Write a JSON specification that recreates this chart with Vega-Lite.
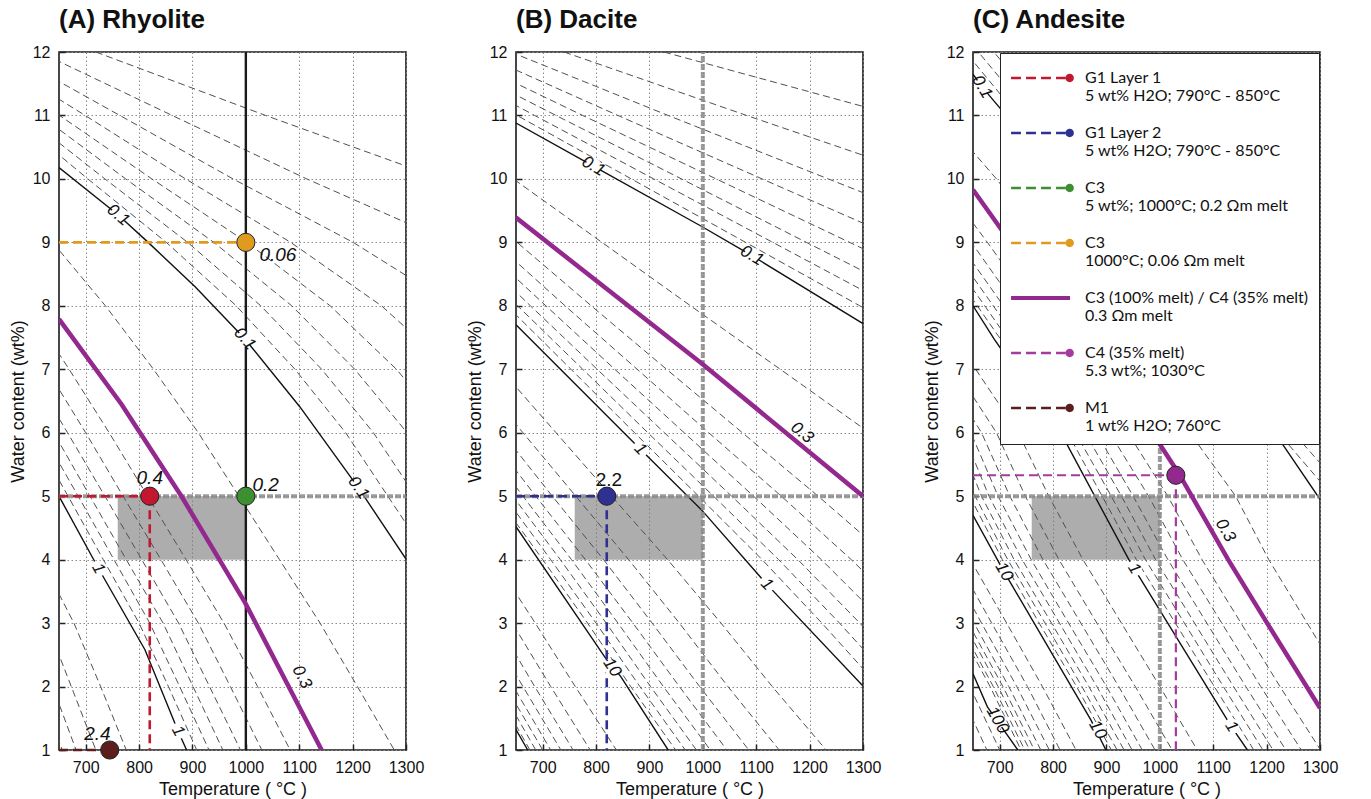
{
"$schema": "https://vega.github.io/schema/vega-lite/v6.json",
"background": "white",
"padding": {"left": 8, "top": 6, "right": 5, "bottom": 0},
"bounds": "flush",
"spacing": 110,
"resolve": {"scale": {"color": "independent", "shape": "independent"}, "legend": {"color": "independent", "shape": "independent"}},
"config": {
  "view": {"stroke": "#1a1a1a", "strokeWidth": 1.6},
  "axis": {"labelFont": "Liberation Sans", "labelFontSize": 16, "titleFont": "Liberation Sans", "titleFontSize": 18, "titleFontWeight": "normal", "labelColor": "#111", "titleColor": "#111", "grid": true, "gridDash": [1.5, 2.5], "gridColor": "#8a8a8a", "gridWidth": 1, "ticks": true, "tickSize": -6, "tickColor": "#222", "tickWidth": 1.5, "domain": false, "labelPadding": 15, "titlePadding": 5, "labelOverlap": false, "labelFlush": false},
  "title": {"font": "Liberation Sans", "fontSize": 26, "fontWeight": "bold", "color": "#111", "anchor": "start", "frame": "group", "offset": 11}
},
"datasets": {
  "dashA": [
    {"level":"0.02","T":502,"W":13},{"level":"0.02","T":719,"W":12},{"level":"0.02","T":1037,"W":11},{"level":"0.02","T":1367,"W":10},
    {"level":"0.03","T":434,"W":13},{"level":"0.03","T":613,"W":12},{"level":"0.03","T":862,"W":11},{"level":"0.03","T":1114,"W":10},{"level":"0.03","T":1384,"W":9},
    {"level":"0.04","T":551,"W":12},{"level":"0.04","T":764,"W":11},{"level":"0.04","T":976,"W":10},{"level":"0.04","T":1201,"W":9},{"level":"0.04","T":1391,"W":8},
    {"level":"0.05","T":508,"W":12},{"level":"0.05","T":699,"W":11},{"level":"0.05","T":887,"W":10},{"level":"0.05","T":1084,"W":9},{"level":"0.05","T":1254,"W":8},{"level":"0.05","T":1386,"W":7},
    {"level":"0.06","T":476,"W":12},{"level":"0.06","T":651,"W":11},{"level":"0.06","T":824,"W":10},{"level":"0.06","T":1002,"W":9},{"level":"0.06","T":1158,"W":8},{"level":"0.06","T":1282,"W":7},{"level":"0.06","T":1383,"W":6},
    {"level":"0.07","T":452,"W":12},{"level":"0.07","T":615,"W":11},{"level":"0.07","T":775,"W":10},{"level":"0.07","T":940,"W":9},{"level":"0.07","T":1086,"W":8},{"level":"0.07","T":1204,"W":7},{"level":"0.07","T":1302,"W":6},{"level":"0.07","T":1381,"W":5},
    {"level":"0.08","T":585,"W":11},{"level":"0.08","T":736,"W":10},{"level":"0.08","T":891,"W":9},{"level":"0.08","T":1028,"W":8},{"level":"0.08","T":1142,"W":7},{"level":"0.08","T":1239,"W":6},{"level":"0.08","T":1318,"W":5},{"level":"0.08","T":1397,"W":4},
    {"level":"0.09","T":561,"W":11},{"level":"0.09","T":704,"W":10},{"level":"0.09","T":851,"W":9},{"level":"0.09","T":982,"W":8},{"level":"0.09","T":1092,"W":7},{"level":"0.09","T":1187,"W":6},{"level":"0.09","T":1266,"W":5},{"level":"0.09","T":1345,"W":4},
    {"level":"0.2","T":638,"W":9},{"level":"0.2","T":737,"W":8},{"level":"0.2","T":827,"W":7},{"level":"0.2","T":911,"W":6},{"level":"0.2","T":987,"W":5},{"level":"0.2","T":1063,"W":4},{"level":"0.2","T":1139,"W":3},{"level":"0.2","T":1209,"W":2},{"level":"0.2","T":1278,"W":1},{"level":"0.2","T":1347,"W":0},
    {"level":"0.4","T":509,"W":9},{"level":"0.4","T":591,"W":8},{"level":"0.4","T":669,"W":7},{"level":"0.4","T":744,"W":6},{"level":"0.4","T":816,"W":5},{"level":"0.4","T":888,"W":4},{"level":"0.4","T":959,"W":3},{"level":"0.4","T":1022,"W":2},{"level":"0.4","T":1083,"W":1},{"level":"0.4","T":1142,"W":0},
    {"level":"0.5","T":475,"W":9},{"level":"0.5","T":552,"W":8},{"level":"0.5","T":627,"W":7},{"level":"0.5","T":700,"W":6},{"level":"0.5","T":770,"W":5},{"level":"0.5","T":841,"W":4},{"level":"0.5","T":911,"W":3},{"level":"0.5","T":971,"W":2},{"level":"0.5","T":1030,"W":1},{"level":"0.5","T":1087,"W":0},
    {"level":"0.6","T":523,"W":8},{"level":"0.6","T":595,"W":7},{"level":"0.6","T":666,"W":6},{"level":"0.6","T":736,"W":5},{"level":"0.6","T":805,"W":4},{"level":"0.6","T":874,"W":3},{"level":"0.6","T":932,"W":2},{"level":"0.6","T":990,"W":1},{"level":"0.6","T":1045,"W":0},
    {"level":"0.7","T":571,"W":7},{"level":"0.7","T":640,"W":6},{"level":"0.7","T":708,"W":5},{"level":"0.7","T":776,"W":4},{"level":"0.7","T":845,"W":3},{"level":"0.7","T":901,"W":2},{"level":"0.7","T":957,"W":1},{"level":"0.7","T":1011,"W":0},
    {"level":"0.8","T":550,"W":7},{"level":"0.8","T":618,"W":6},{"level":"0.8","T":686,"W":5},{"level":"0.8","T":753,"W":4},{"level":"0.8","T":820,"W":3},{"level":"0.8","T":876,"W":2},{"level":"0.8","T":931,"W":1},{"level":"0.8","T":984,"W":0},
    {"level":"0.9","T":600,"W":6},{"level":"0.9","T":667,"W":5},{"level":"0.9","T":733,"W":4},{"level":"0.9","T":800,"W":3},{"level":"0.9","T":855,"W":2},{"level":"0.9","T":908,"W":1},{"level":"0.9","T":960,"W":0},
    {"level":"2","T":555,"W":5},{"level":"2","T":617,"W":4},{"level":"2","T":678,"W":3},{"level":"2","T":728,"W":2},{"level":"2","T":776,"W":1},{"level":"2","T":822,"W":0},
    {"level":"3","T":567,"W":4},{"level":"3","T":627,"W":3},{"level":"3","T":673,"W":2},{"level":"3","T":719,"W":1},{"level":"3","T":763,"W":0},
    {"level":"4","T":593,"W":3},{"level":"4","T":638,"W":2},{"level":"4","T":682,"W":1},{"level":"4","T":724,"W":0},
    {"level":"5","T":569,"W":3},{"level":"5","T":613,"W":2},{"level":"5","T":656,"W":1},{"level":"5","T":697,"W":0}
  ],
  "majorA": [
    {"level":"0.1","T":650,"W":10.18},{"level":"0.1","T":761,"W":9.43},{"level":"0.1","T":817,"W":9.0},{"level":"0.1","T":905,"W":8.3},{"level":"0.1","T":998,"W":7.48},{"level":"0.1","T":1101,"W":6.41},{"level":"0.1","T":1211,"W":5.13},{"level":"0.1","T":1300,"W":4.01},
    {"level":"1","T":650,"W":5.0},{"level":"1","T":724,"W":3.86},{"level":"1","T":811,"W":2.58},{"level":"1","T":873,"W":1.3},{"level":"1","T":889,"W":1.0}
  ],
  "meltA": [{"T":650,"W":7.79},{"T":767,"W":6.45},{"T":880,"W":4.99},{"T":998,"W":3.33},{"T":1142,"W":1.0}],
  "dashB": [
    {"level":"0.02","T":927,"W":12},{"level":"0.02","T":1362,"W":11},
    {"level":"0.03","T":740,"W":12},{"level":"0.03","T":1082,"W":11},{"level":"0.03","T":1430,"W":10},
    {"level":"0.04","T":640,"W":12},{"level":"0.04","T":935,"W":11},{"level":"0.04","T":1235,"W":10},{"level":"0.04","T":1535,"W":9},
    {"level":"0.05","T":574,"W":12},{"level":"0.05","T":841,"W":11},{"level":"0.05","T":1111,"W":10},{"level":"0.05","T":1382,"W":9},
    {"level":"0.06","T":528,"W":12},{"level":"0.06","T":775,"W":11},{"level":"0.06","T":1025,"W":10},{"level":"0.06","T":1275,"W":9},{"level":"0.06","T":1525,"W":8},
    {"level":"0.07","T":492,"W":12},{"level":"0.07","T":725,"W":11},{"level":"0.07","T":960,"W":10},{"level":"0.07","T":1194,"W":9},{"level":"0.07","T":1429,"W":8},
    {"level":"0.08","T":463,"W":12},{"level":"0.08","T":685,"W":11},{"level":"0.08","T":908,"W":10},{"level":"0.08","T":1131,"W":9},{"level":"0.08","T":1354,"W":8},
    {"level":"0.09","T":440,"W":12},{"level":"0.09","T":652,"W":11},{"level":"0.09","T":866,"W":10},{"level":"0.09","T":1080,"W":9},{"level":"0.09","T":1294,"W":8},{"level":"0.09","T":1506,"W":7},
    {"level":"0.2","T":479,"W":11},{"level":"0.2","T":645,"W":10},{"level":"0.2","T":811,"W":9},{"level":"0.2","T":977,"W":8},{"level":"0.2","T":1145,"W":7},{"level":"0.2","T":1312,"W":6},
    {"level":"0.4","T":513,"W":10},{"level":"0.4","T":652,"W":9},{"level":"0.4","T":791,"W":8},{"level":"0.4","T":932,"W":7},{"level":"0.4","T":1074,"W":6},{"level":"0.4","T":1216,"W":5},{"level":"0.4","T":1353,"W":4},
    {"level":"0.5","T":610,"W":9},{"level":"0.5","T":742,"W":8},{"level":"0.5","T":877,"W":7},{"level":"0.5","T":1011,"W":6},{"level":"0.5","T":1147,"W":5},{"level":"0.5","T":1278,"W":4},{"level":"0.5","T":1401,"W":3},
    {"level":"0.6","T":578,"W":9},{"level":"0.6","T":706,"W":8},{"level":"0.6","T":835,"W":7},{"level":"0.6","T":965,"W":6},{"level":"0.6","T":1095,"W":5},{"level":"0.6","T":1222,"W":4},{"level":"0.6","T":1341,"W":3},
    {"level":"0.7","T":553,"W":9},{"level":"0.7","T":677,"W":8},{"level":"0.7","T":802,"W":7},{"level":"0.7","T":928,"W":6},{"level":"0.7","T":1054,"W":5},{"level":"0.7","T":1178,"W":4},{"level":"0.7","T":1294,"W":3},{"level":"0.7","T":1404,"W":2},
    {"level":"0.8","T":533,"W":9},{"level":"0.8","T":653,"W":8},{"level":"0.8","T":775,"W":7},{"level":"0.8","T":897,"W":6},{"level":"0.8","T":1020,"W":5},{"level":"0.8","T":1142,"W":4},{"level":"0.8","T":1256,"W":3},{"level":"0.8","T":1364,"W":2},
    {"level":"0.9","T":516,"W":9},{"level":"0.9","T":633,"W":8},{"level":"0.9","T":753,"W":7},{"level":"0.9","T":872,"W":6},{"level":"0.9","T":992,"W":5},{"level":"0.9","T":1111,"W":4},{"level":"0.9","T":1223,"W":3},{"level":"0.9","T":1330,"W":2},
    {"level":"2","T":518,"W":8},{"level":"2","T":621,"W":7},{"level":"2","T":725,"W":6},{"level":"2","T":829,"W":5},{"level":"2","T":934,"W":4},{"level":"2","T":1034,"W":3},{"level":"2","T":1130,"W":2},{"level":"2","T":1231,"W":1},{"level":"2","T":1334,"W":0},
    {"level":"3","T":567,"W":7},{"level":"3","T":663,"W":6},{"level":"3","T":762,"W":5},{"level":"3","T":861,"W":4},{"level":"3","T":956,"W":3},{"level":"3","T":1047,"W":2},{"level":"3","T":1143,"W":1},{"level":"3","T":1241,"W":0},
    {"level":"4","T":532,"W":7},{"level":"4","T":624,"W":6},{"level":"4","T":718,"W":5},{"level":"4","T":814,"W":4},{"level":"4","T":905,"W":3},{"level":"4","T":994,"W":2},{"level":"4","T":1086,"W":1},{"level":"4","T":1182,"W":0},
    {"level":"5","T":596,"W":6},{"level":"5","T":687,"W":5},{"level":"5","T":780,"W":4},{"level":"5","T":869,"W":3},{"level":"5","T":956,"W":2},{"level":"5","T":1045,"W":1},{"level":"5","T":1139,"W":0},
    {"level":"6","T":575,"W":6},{"level":"6","T":663,"W":5},{"level":"6","T":754,"W":4},{"level":"6","T":841,"W":3},{"level":"6","T":926,"W":2},{"level":"6","T":1014,"W":1},{"level":"6","T":1106,"W":0},
    {"level":"7","T":557,"W":6},{"level":"7","T":644,"W":5},{"level":"7","T":733,"W":4},{"level":"7","T":819,"W":3},{"level":"7","T":902,"W":2},{"level":"7","T":988,"W":1},{"level":"7","T":1079,"W":0},
    {"level":"8","T":543,"W":6},{"level":"8","T":628,"W":5},{"level":"8","T":715,"W":4},{"level":"8","T":800,"W":3},{"level":"8","T":882,"W":2},{"level":"8","T":967,"W":1},{"level":"8","T":1057,"W":0},
    {"level":"9","T":530,"W":6},{"level":"9","T":614,"W":5},{"level":"9","T":700,"W":4},{"level":"9","T":784,"W":3},{"level":"9","T":865,"W":2},{"level":"9","T":949,"W":1},{"level":"9","T":1038,"W":0},
    {"level":"20","T":531,"W":5},{"level":"20","T":609,"W":4},{"level":"20","T":686,"W":3},{"level":"20","T":761,"W":2},{"level":"20","T":838,"W":1},{"level":"20","T":921,"W":0},
    {"level":"30","T":570,"W":4},{"level":"30","T":643,"W":3},{"level":"30","T":715,"W":2},{"level":"30","T":789,"W":1},{"level":"30","T":869,"W":0},
    {"level":"40","T":615,"W":3},{"level":"40","T":685,"W":2},{"level":"40","T":757,"W":1},{"level":"40","T":836,"W":0},
    {"level":"50","T":594,"W":3},{"level":"50","T":663,"W":2},{"level":"50","T":734,"W":1},{"level":"50","T":810,"W":0},
    {"level":"60","T":578,"W":3},{"level":"60","T":645,"W":2},{"level":"60","T":715,"W":1},{"level":"60","T":791,"W":0},
    {"level":"70","T":631,"W":2},{"level":"70","T":700,"W":1},{"level":"70","T":775,"W":0},
    {"level":"80","T":619,"W":2},{"level":"80","T":687,"W":1},{"level":"80","T":761,"W":0},
    {"level":"90","T":609,"W":2},{"level":"90","T":676,"W":1},{"level":"90","T":750,"W":0}
  ],
  "majorB": [
    {"level":"0.1","T":650,"W":10.88},{"level":"0.1","T":795,"W":10.2},{"level":"0.1","T":998,"W":9.25},{"level":"0.1","T":1092,"W":8.79},{"level":"0.1","T":1300,"W":7.72},
    {"level":"1","T":650,"W":7.7},{"level":"1","T":883,"W":5.74},{"level":"1","T":998,"W":4.78},{"level":"1","T":1120,"W":3.61},{"level":"1","T":1300,"W":2.01},
    {"level":"10","T":650,"W":4.52},{"level":"10","T":820,"W":2.42},{"level":"10","T":846,"W":2.16},{"level":"10","T":935,"W":1.0},
    {"level":"100","T":620,"W":1.75},{"level":"100","T":650,"W":1.32},{"level":"100","T":672,"W":1.0},{"level":"100","T":700,"W":0.6}
  ],
  "meltB": [{"T":650,"W":9.39},{"T":998,"W":7.09},{"T":1300,"W":5.0}],
  "dashC": [
    {"level":"0.07","T":583,"W":13},{"level":"0.07","T":689,"W":12},{"level":"0.07","T":789,"W":11},{"level":"0.07","T":913,"W":10},{"level":"0.07","T":1010,"W":9},{"level":"0.07","T":1088,"W":8},{"level":"0.07","T":1168,"W":7},{"level":"0.07","T":1283,"W":6},{"level":"0.07","T":1391,"W":5},
    {"level":"0.08","T":556,"W":13},{"level":"0.08","T":660,"W":12},{"level":"0.08","T":759,"W":11},{"level":"0.08","T":880,"W":10},{"level":"0.08","T":977,"W":9},{"level":"0.08","T":1056,"W":8},{"level":"0.08","T":1136,"W":7},{"level":"0.08","T":1250,"W":6},{"level":"0.08","T":1355,"W":5},
    {"level":"0.09","T":533,"W":13},{"level":"0.09","T":636,"W":12},{"level":"0.09","T":734,"W":11},{"level":"0.09","T":852,"W":10},{"level":"0.09","T":949,"W":9},{"level":"0.09","T":1029,"W":8},{"level":"0.09","T":1110,"W":7},{"level":"0.09","T":1222,"W":6},{"level":"0.09","T":1324,"W":5},
    {"level":"0.2","T":1348,"W":2},{"level":"0.2","T":1276,"W":3},{"level":"0.2","T":1204,"W":4},{"level":"0.2","T":1142,"W":5},{"level":"0.2","T":1056,"W":6},{"level":"0.2","T":955,"W":7},{"level":"0.2","T":871,"W":8},{"level":"0.2","T":786,"W":9},{"level":"0.2","T":694,"W":10},{"level":"0.2","T":591,"W":11},
    {"level":"0.4","T":1379,"W":0},{"level":"0.4","T":1301,"W":1},{"level":"0.4","T":1225,"W":2},{"level":"0.4","T":1152,"W":3},{"level":"0.4","T":1079,"W":4},{"level":"0.4","T":1015,"W":5},{"level":"0.4","T":940,"W":6},{"level":"0.4","T":846,"W":7},{"level":"0.4","T":762,"W":8},{"level":"0.4","T":677,"W":9},{"level":"0.4","T":588,"W":10},
    {"level":"0.5","T":1341,"W":0},{"level":"0.5","T":1265,"W":1},{"level":"0.5","T":1189,"W":2},{"level":"0.5","T":1116,"W":3},{"level":"0.5","T":1043,"W":4},{"level":"0.5","T":979,"W":5},{"level":"0.5","T":906,"W":6},{"level":"0.5","T":815,"W":7},{"level":"0.5","T":731,"W":8},{"level":"0.5","T":647,"W":9},{"level":"0.5","T":559,"W":10},
    {"level":"0.6","T":1312,"W":0},{"level":"0.6","T":1236,"W":1},{"level":"0.6","T":1161,"W":2},{"level":"0.6","T":1088,"W":3},{"level":"0.6","T":1015,"W":4},{"level":"0.6","T":950,"W":5},{"level":"0.6","T":881,"W":6},{"level":"0.6","T":791,"W":7},{"level":"0.6","T":707,"W":8},{"level":"0.6","T":623,"W":9},
    {"level":"0.7","T":1288,"W":0},{"level":"0.7","T":1212,"W":1},{"level":"0.7","T":1138,"W":2},{"level":"0.7","T":1065,"W":3},{"level":"0.7","T":992,"W":4},{"level":"0.7","T":928,"W":5},{"level":"0.7","T":860,"W":6},{"level":"0.7","T":772,"W":7},{"level":"0.7","T":688,"W":8},{"level":"0.7","T":604,"W":9},
    {"level":"0.8","T":1268,"W":0},{"level":"0.8","T":1193,"W":1},{"level":"0.8","T":1119,"W":2},{"level":"0.8","T":1046,"W":3},{"level":"0.8","T":973,"W":4},{"level":"0.8","T":909,"W":5},{"level":"0.8","T":842,"W":6},{"level":"0.8","T":755,"W":7},{"level":"0.8","T":672,"W":8},{"level":"0.8","T":588,"W":9},
    {"level":"0.9","T":1250,"W":0},{"level":"0.9","T":1176,"W":1},{"level":"0.9","T":1102,"W":2},{"level":"0.9","T":1029,"W":3},{"level":"0.9","T":956,"W":4},{"level":"0.9","T":892,"W":5},{"level":"0.9","T":827,"W":6},{"level":"0.9","T":741,"W":7},{"level":"0.9","T":658,"W":8},{"level":"0.9","T":575,"W":9},
    {"level":"2","T":1142,"W":0},{"level":"2","T":1070,"W":1},{"level":"2","T":1000,"W":2},{"level":"2","T":928,"W":3},{"level":"2","T":856,"W":4},{"level":"2","T":792,"W":5},{"level":"2","T":735,"W":6},{"level":"2","T":655,"W":7},{"level":"2","T":574,"W":8},
    {"level":"3","T":1093,"W":0},{"level":"3","T":1023,"W":1},{"level":"3","T":954,"W":2},{"level":"3","T":882,"W":3},{"level":"3","T":811,"W":4},{"level":"3","T":748,"W":5},{"level":"3","T":694,"W":6},{"level":"3","T":617,"W":7},
    {"level":"4","T":1060,"W":0},{"level":"4","T":991,"W":1},{"level":"4","T":923,"W":2},{"level":"4","T":852,"W":3},{"level":"4","T":781,"W":4},{"level":"4","T":719,"W":5},{"level":"4","T":666,"W":6},{"level":"4","T":592,"W":7},
    {"level":"5","T":1035,"W":0},{"level":"5","T":967,"W":1},{"level":"5","T":900,"W":2},{"level":"5","T":829,"W":3},{"level":"5","T":759,"W":4},{"level":"5","T":697,"W":5},{"level":"5","T":646,"W":6},{"level":"5","T":573,"W":7},
    {"level":"6","T":1016,"W":0},{"level":"6","T":948,"W":1},{"level":"6","T":882,"W":2},{"level":"6","T":812,"W":3},{"level":"6","T":742,"W":4},{"level":"6","T":680,"W":5},{"level":"6","T":631,"W":6},
    {"level":"7","T":1000,"W":0},{"level":"7","T":933,"W":1},{"level":"7","T":867,"W":2},{"level":"7","T":797,"W":3},{"level":"7","T":727,"W":4},{"level":"7","T":666,"W":5},{"level":"7","T":618,"W":6},
    {"level":"8","T":986,"W":0},{"level":"8","T":920,"W":1},{"level":"8","T":854,"W":2},{"level":"8","T":785,"W":3},{"level":"8","T":715,"W":4},{"level":"8","T":654,"W":5},{"level":"8","T":607,"W":6},
    {"level":"9","T":975,"W":0},{"level":"9","T":909,"W":1},{"level":"9","T":844,"W":2},{"level":"9","T":774,"W":3},{"level":"9","T":705,"W":4},{"level":"9","T":644,"W":5},
    {"level":"20","T":906,"W":0},{"level":"20","T":843,"W":1},{"level":"20","T":780,"W":2},{"level":"20","T":713,"W":3},{"level":"20","T":645,"W":4},
    {"level":"30","T":875,"W":0},{"level":"30","T":813,"W":1},{"level":"30","T":752,"W":2},{"level":"30","T":685,"W":3},{"level":"30","T":619,"W":4},
    {"level":"40","T":854,"W":0},{"level":"40","T":793,"W":1},{"level":"40","T":732,"W":2},{"level":"40","T":666,"W":3},{"level":"40","T":601,"W":4},
    {"level":"50","T":837,"W":0},{"level":"50","T":777,"W":1},{"level":"50","T":717,"W":2},{"level":"50","T":652,"W":3},{"level":"50","T":588,"W":4},
    {"level":"60","T":825,"W":0},{"level":"60","T":765,"W":1},{"level":"60","T":706,"W":2},{"level":"60","T":641,"W":3},
    {"level":"70","T":816,"W":0},{"level":"70","T":756,"W":1},{"level":"70","T":697,"W":2},{"level":"70","T":633,"W":3},
    {"level":"80","T":806,"W":0},{"level":"80","T":747,"W":1},{"level":"80","T":688,"W":2},{"level":"80","T":624,"W":3},
    {"level":"90","T":799,"W":0},{"level":"90","T":740,"W":1},{"level":"90","T":682,"W":2},{"level":"90","T":618,"W":3},
    {"level":"200","T":756,"W":0},{"level":"200","T":700,"W":1},{"level":"200","T":644,"W":2},
    {"level":"300","T":731,"W":0},{"level":"300","T":676,"W":1},{"level":"300","T":621,"W":2}
  ],
  "majorC": [
    {"level":"0.1","T":650,"W":11.65},{"level":"0.1","T":667,"W":11.45},{"level":"0.1","T":1224,"W":5.89},{"level":"0.1","T":1300,"W":4.95},
    {"level":"1","T":650,"W":8.0},{"level":"1","T":690,"W":7.47},{"level":"1","T":820,"W":5.91},{"level":"1","T":942,"W":4.0},{"level":"1","T":952,"W":3.86},{"level":"1","T":1134,"W":1.37},{"level":"1","T":1164,"W":1.0},
    {"level":"10","T":650,"W":4.7},{"level":"10","T":708,"W":3.81},{"level":"10","T":871,"W":1.47},{"level":"10","T":899,"W":1.0},
    {"level":"100","T":650,"W":2.2},{"level":"100","T":677,"W":1.68},{"level":"100","T":734,"W":1.0}
  ],
  "meltC": [{"T":650,"W":9.83},{"T":805,"W":8},{"T":889,"W":7},{"T":986,"W":6},{"T":1036,"W":5.35},{"T":1128,"W":4},{"T":1201,"W":3},{"T":1300,"W":1.66}],
  "boxes": [
    {"panel":"A","T":760,"T2":1000,"W":4,"W2":5},
    {"panel":"B","T":760,"T2":1000,"W":4,"W2":5},
    {"panel":"C","T":760,"T2":1000,"W":4,"W2":5}
  ],
  "refs": [
    {"panel":"A","kind":"h","T":650,"T2":1300,"W":5,"W2":5},
    {"panel":"A","kind":"v","T":1000,"T2":1000,"W":1,"W2":12},
    {"panel":"B","kind":"h","T":650,"T2":1300,"W":5,"W2":5},
    {"panel":"B","kind":"v","T":1000,"T2":1000,"W":1,"W2":12},
    {"panel":"C","kind":"h","T":650,"T2":1300,"W":5,"W2":5},
    {"panel":"C","kind":"v","T":1000,"T2":1000,"W":1,"W2":12}
  ],
  "guides": [
    {"panel":"A","series":"C3|1000°C; 0.06 Ωm melt","T":650,"T2":1000,"W":9,"W2":9},
    {"panel":"A","series":"G1 Layer 1| 5 wt% H2O; 790°C - 850°C","T":650,"T2":820,"W":5,"W2":5},
    {"panel":"A","series":"G1 Layer 1| 5 wt% H2O; 790°C - 850°C","T":820,"T2":820,"W":5,"W2":1},
    {"panel":"A","series":"M1|1 wt% H2O; 760°C","T":650,"T2":745,"W":1,"W2":1},
    {"panel":"B","series":"G1 Layer 2|5 wt% H2O; 790°C - 850°C","T":650,"T2":820,"W":5,"W2":5},
    {"panel":"B","series":"G1 Layer 2|5 wt% H2O; 790°C - 850°C","T":820,"T2":820,"W":5,"W2":1},
    {"panel":"C","series":"C4 (35% melt)|5.3 wt%; 1030°C","T":650,"T2":1030,"W":5.33,"W2":5.33},
    {"panel":"C","series":"C4 (35% melt)|5.3 wt%; 1030°C","T":1030,"T2":1030,"W":5.33,"W2":1}
  ],
  "pts": [
    {"panel":"A","series":"C3|1000°C; 0.06 Ωm melt","T":1000,"W":9},
    {"panel":"A","series":"G1 Layer 1| 5 wt% H2O; 790°C - 850°C","T":820,"W":5},
    {"panel":"A","series":"C3|5 wt%; 1000°C; 0.2 Ωm melt","T":1000,"W":5},
    {"panel":"A","series":"M1|1 wt% H2O; 760°C","T":745,"W":1},
    {"panel":"B","series":"G1 Layer 2|5 wt% H2O; 790°C - 850°C","T":820,"W":5},
    {"panel":"C","series":"C4 (35% melt)|5.3 wt%; 1030°C","T":1030,"W":5.33}
  ],
  "ptlabels": [
    {"panel":"A","txt":"0.06","T":1060,"W":8.8},
    {"panel":"A","txt":"0.4","T":820,"W":5.29},
    {"panel":"A","txt":"0.2","T":1037,"W":5.17},
    {"panel":"A","txt":"2.4","T":722,"W":1.25},
    {"panel":"B","txt":"2.2","T":824,"W":5.25}
  ],
  "clabels": [
    {"panel":"A","grp":"a40","txt":"0.1","T":761,"W":9.43},
    {"panel":"A","grp":"a50","txt":"0.1","T":998,"W":7.48},
    {"panel":"A","grp":"a55","txt":"0.1","T":1211,"W":5.13},
    {"panel":"A","grp":"a62","txt":"1","T":724,"W":3.86},
    {"panel":"A","grp":"a62","txt":"1","T":873,"W":1.3},
    {"panel":"A","grp":"a62","txt":"0.3","T":1105,"W":2.15},
    {"panel":"B","grp":"b30","txt":"0.1","T":795,"W":10.2},
    {"panel":"B","grp":"b30","txt":"0.1","T":1092,"W":8.79},
    {"panel":"B","grp":"b39","txt":"0.3","T":1186,"W":6.0},
    {"panel":"B","grp":"b46","txt":"1","T":883,"W":5.74},
    {"panel":"B","grp":"b46","txt":"1","T":1120,"W":3.61},
    {"panel":"B","grp":"b56","txt":"10","T":830,"W":2.3},
    {"panel":"C","grp":"c58","txt":"1","T":952,"W":3.86},
    {"panel":"C","grp":"c58","txt":"1","T":1134,"W":1.37},
    {"panel":"C","grp":"c60","txt":"0.3","T":1123,"W":4.46},
    {"panel":"C","grp":"c60","txt":"10","T":708,"W":3.81},
    {"panel":"C","grp":"c60","txt":"10","T":884,"W":1.32},
    {"panel":"C","grp":"c60","txt":"100","T":696,"W":1.47},
    {"panel":"C","grp":"c60","txt":"0.1","T":667,"W":11.45}
  ],
  "legendItems": [
    {"series":"G1 Layer 1| 5 wt% H2O; 790°C - 850°C"},
    {"series":"G1 Layer 2|5 wt% H2O; 790°C - 850°C"},
    {"series":"C3|5 wt%; 1000°C; 0.2 Ωm melt"},
    {"series":"C3|1000°C; 0.06 Ωm melt"},
    {"series":"C3 (100% melt) / C4 (35% melt)|0.3 Ωm melt"},
    {"series":"C4 (35% melt)|5.3 wt%; 1030°C"},
    {"series":"M1|1 wt% H2O; 760°C"}
  ]
},
"hconcat": [
  {
    "width": 347, "height": 698,
    "title": {"text": "(A) Rhyolite"},
    "encoding": {
      "x": {"field": "T", "type": "quantitative", "scale": {"domain": [650, 1300], "nice": false, "zero": false}, "axis": {"values": [700, 800, 900, 1000, 1100, 1200, 1300], "format": "d", "title": "Temperature ( °C )"}},
      "y": {"field": "W", "type": "quantitative", "scale": {"domain": [1, 12], "nice": false, "zero": false}, "axis": {"values": [1,2,3,4,5,6,7,8,9,10,11,12], "format": "d", "title": "Water content (wt%)"}}
    },
    "layer": [
      {"data": {"name": "boxes"}, "transform": [{"filter": "datum.panel === 'A'"}], "mark": {"type": "rect", "color": "#7a7a7a", "opacity": 0.62}, "encoding": {"x2": {"field": "T2"}, "y2": {"field": "W2"}}},
      {"data": {"name": "dashA"}, "mark": {"type": "line", "clip": true, "color": "#505050", "strokeWidth": 1, "strokeDash": [7, 4]}, "encoding": {"detail": {"field": "level", "type": "nominal"}}},
      {"data": {"name": "majorA"}, "mark": {"type": "line", "clip": true, "color": "#111", "strokeWidth": 1.4}, "encoding": {"detail": {"field": "level", "type": "nominal"}}},
      {"data": {"name": "refs"}, "transform": [{"filter": "datum.panel === 'A' && datum.kind === 'h'"}], "mark": {"type": "rule", "color": "#8a8a8a", "strokeWidth": 4, "strokeDash": [6, 2], "opacity": 0.85}, "encoding": {"x2": {"field": "T2"}, "y2": {"field": "W2"}}},
      {"data": {"name": "refs"}, "transform": [{"filter": "datum.panel === 'A' && datum.kind === 'v'"}], "mark": {"type": "rule", "color": "#1a1a1a", "strokeWidth": 2.4}, "encoding": {"x2": {"field": "T2"}, "y2": {"field": "W2"}}},
      {"data": {"name": "meltA"}, "mark": {"type": "line", "clip": true, "color": "#93288e", "strokeWidth": 4.5}, "encoding": {}},
      {"data": {"name": "guides"}, "transform": [{"filter": "datum.panel === 'A'"}], "mark": {"type": "rule", "strokeWidth": 2.6, "strokeDash": [9, 5]}, "encoding": {"x2": {"field": "T2"}, "y2": {"field": "W2"}, "color": {"field": "series", "type": "nominal", "legend": null, "scale": {"domain": ["G1 Layer 1| 5 wt% H2O; 790°C - 850°C", "C3|5 wt%; 1000°C; 0.2 Ωm melt", "C3|1000°C; 0.06 Ωm melt", "M1|1 wt% H2O; 760°C"], "range": ["#c1172f", "#3d8f32", "#e09a1e", "#5b1d1d"]}}}},
      {"data": {"name": "pts"}, "transform": [{"filter": "datum.panel === 'A'"}], "mark": {"type": "point", "filled": true, "size": 330, "opacity": 1, "stroke": "#222", "strokeWidth": 1}, "encoding": {"color": {"field": "series", "type": "nominal", "legend": null}}},
      {"data": {"name": "clabels"}, "transform": [{"filter": "datum.panel === 'A' && datum.txt !== '0.3'"}], "mark": {"type": "point", "filled": true, "color": "white", "size": 260, "opacity": 1}},
      {"data": {"name": "clabels"}, "transform": [{"filter": "datum.grp === 'a40'"}], "mark": {"type": "text", "angle": 40, "font": "Liberation Sans", "fontSize": 17, "fontStyle": "italic", "color": "#111"}, "encoding": {"text": {"field": "txt"}}},
      {"data": {"name": "clabels"}, "transform": [{"filter": "datum.grp === 'a50'"}], "mark": {"type": "text", "angle": 50, "font": "Liberation Sans", "fontSize": 17, "fontStyle": "italic", "color": "#111"}, "encoding": {"text": {"field": "txt"}}},
      {"data": {"name": "clabels"}, "transform": [{"filter": "datum.grp === 'a55'"}], "mark": {"type": "text", "angle": 55, "font": "Liberation Sans", "fontSize": 17, "fontStyle": "italic", "color": "#111"}, "encoding": {"text": {"field": "txt"}}},
      {"data": {"name": "clabels"}, "transform": [{"filter": "datum.grp === 'a62'"}], "mark": {"type": "text", "angle": 62, "font": "Liberation Sans", "fontSize": 17, "fontStyle": "italic", "color": "#111"}, "encoding": {"text": {"field": "txt"}}},
      {"data": {"name": "ptlabels"}, "transform": [{"filter": "datum.panel === 'A'"}], "mark": {"type": "text", "font": "Liberation Sans", "fontSize": 19, "fontStyle": "italic", "color": "#111"}, "encoding": {"text": {"field": "txt"}}}
    ]
  },
  {
    "width": 347, "height": 698,
    "title": {"text": "(B) Dacite"},
    "encoding": {
      "x": {"field": "T", "type": "quantitative", "scale": {"domain": [650, 1300], "nice": false, "zero": false}, "axis": {"values": [700, 800, 900, 1000, 1100, 1200, 1300], "format": "d", "title": "Temperature ( °C )"}},
      "y": {"field": "W", "type": "quantitative", "scale": {"domain": [1, 12], "nice": false, "zero": false}, "axis": {"values": [1,2,3,4,5,6,7,8,9,10,11,12], "format": "d", "title": "Water content (wt%)"}}
    },
    "layer": [
      {"data": {"name": "boxes"}, "transform": [{"filter": "datum.panel === 'B'"}], "mark": {"type": "rect", "color": "#7a7a7a", "opacity": 0.62}, "encoding": {"x2": {"field": "T2"}, "y2": {"field": "W2"}}},
      {"data": {"name": "dashB"}, "mark": {"type": "line", "clip": true, "color": "#505050", "strokeWidth": 1, "strokeDash": [7, 4]}, "encoding": {"detail": {"field": "level", "type": "nominal"}}},
      {"data": {"name": "majorB"}, "mark": {"type": "line", "clip": true, "color": "#111", "strokeWidth": 1.4}, "encoding": {"detail": {"field": "level", "type": "nominal"}}},
      {"data": {"name": "refs"}, "transform": [{"filter": "datum.panel === 'B'"}], "mark": {"type": "rule", "color": "#8a8a8a", "strokeWidth": 4, "strokeDash": [6, 2], "opacity": 0.85}, "encoding": {"x2": {"field": "T2"}, "y2": {"field": "W2"}}},
      {"data": {"name": "meltB"}, "mark": {"type": "line", "clip": true, "color": "#93288e", "strokeWidth": 4.5}, "encoding": {}},
      {"data": {"name": "guides"}, "transform": [{"filter": "datum.panel === 'B'"}], "mark": {"type": "rule", "color": "#2e3192", "strokeWidth": 2.6, "strokeDash": [9, 5]}, "encoding": {"x2": {"field": "T2"}, "y2": {"field": "W2"}}},
      {"data": {"name": "pts"}, "transform": [{"filter": "datum.panel === 'B'"}], "mark": {"type": "point", "filled": true, "size": 330, "opacity": 1, "color": "#2e3192", "stroke": "#222", "strokeWidth": 1}},
      {"data": {"name": "clabels"}, "transform": [{"filter": "datum.panel === 'B' && datum.txt !== '0.3'"}], "mark": {"type": "point", "filled": true, "color": "white", "size": 260, "opacity": 1}},
      {"data": {"name": "clabels"}, "transform": [{"filter": "datum.grp === 'b30'"}], "mark": {"type": "text", "angle": 30, "font": "Liberation Sans", "fontSize": 17, "fontStyle": "italic", "color": "#111"}, "encoding": {"text": {"field": "txt"}}},
      {"data": {"name": "clabels"}, "transform": [{"filter": "datum.grp === 'b39'"}], "mark": {"type": "text", "angle": 39, "font": "Liberation Sans", "fontSize": 17, "fontStyle": "italic", "color": "#111"}, "encoding": {"text": {"field": "txt"}}},
      {"data": {"name": "clabels"}, "transform": [{"filter": "datum.grp === 'b46'"}], "mark": {"type": "text", "angle": 46, "font": "Liberation Sans", "fontSize": 17, "fontStyle": "italic", "color": "#111"}, "encoding": {"text": {"field": "txt"}}},
      {"data": {"name": "clabels"}, "transform": [{"filter": "datum.grp === 'b56'"}], "mark": {"type": "text", "angle": 56, "font": "Liberation Sans", "fontSize": 17, "fontStyle": "italic", "color": "#111"}, "encoding": {"text": {"field": "txt"}}},
      {"data": {"name": "ptlabels"}, "transform": [{"filter": "datum.panel === 'B'"}], "mark": {"type": "text", "font": "Liberation Sans", "fontSize": 19, "color": "#111"}, "encoding": {"text": {"field": "txt"}}}
    ]
  },
  {
    "width": 347, "height": 698,
    "title": {"text": "(C) Andesite"},
    "encoding": {
      "x": {"field": "T", "type": "quantitative", "scale": {"domain": [650, 1300], "nice": false, "zero": false}, "axis": {"values": [700, 800, 900, 1000, 1100, 1200, 1300], "format": "d", "title": "Temperature ( °C )"}},
      "y": {"field": "W", "type": "quantitative", "scale": {"domain": [1, 12], "nice": false, "zero": false}, "axis": {"values": [1,2,3,4,5,6,7,8,9,10,11,12], "format": "d", "title": "Water content (wt%)"}}
    },
    "layer": [
      {"data": {"name": "boxes"}, "transform": [{"filter": "datum.panel === 'C'"}], "mark": {"type": "rect", "color": "#7a7a7a", "opacity": 0.62}, "encoding": {"x2": {"field": "T2"}, "y2": {"field": "W2"}}},
      {"data": {"name": "dashC"}, "mark": {"type": "line", "clip": true, "color": "#505050", "strokeWidth": 1, "strokeDash": [7, 4]}, "encoding": {"detail": {"field": "level", "type": "nominal"}}},
      {"data": {"name": "majorC"}, "mark": {"type": "line", "clip": true, "color": "#111", "strokeWidth": 1.4}, "encoding": {"detail": {"field": "level", "type": "nominal"}}},
      {"data": {"name": "refs"}, "transform": [{"filter": "datum.panel === 'C'"}], "mark": {"type": "rule", "color": "#8a8a8a", "strokeWidth": 4, "strokeDash": [6, 2], "opacity": 0.85}, "encoding": {"x2": {"field": "T2"}, "y2": {"field": "W2"}}},
      {"data": {"name": "meltC"}, "mark": {"type": "line", "clip": true, "color": "#93288e", "strokeWidth": 4.5}, "encoding": {}},
      {"data": {"name": "guides"}, "transform": [{"filter": "datum.panel === 'C'"}], "mark": {"type": "rule", "color": "#a53a9f", "strokeWidth": 2.2, "strokeDash": [9, 5]}, "encoding": {"x2": {"field": "T2"}, "y2": {"field": "W2"}}},
      {"data": {"name": "pts"}, "transform": [{"filter": "datum.panel === 'C'"}], "mark": {"type": "point", "filled": true, "size": 330, "opacity": 1, "color": "#93288e", "stroke": "#222", "strokeWidth": 1}},
      {"data": {"name": "clabels"}, "transform": [{"filter": "datum.panel === 'C' && datum.txt !== '0.3'"}], "mark": {"type": "point", "filled": true, "color": "white", "size": 260, "opacity": 1}},
      {"data": {"name": "clabels"}, "transform": [{"filter": "datum.grp === 'c58'"}], "mark": {"type": "text", "angle": 58, "font": "Liberation Sans", "fontSize": 17, "fontStyle": "italic", "color": "#111"}, "encoding": {"text": {"field": "txt"}}},
      {"data": {"name": "clabels"}, "transform": [{"filter": "datum.grp === 'c60'"}], "mark": {"type": "text", "angle": 60, "font": "Liberation Sans", "fontSize": 17, "fontStyle": "italic", "color": "#111"}, "encoding": {"text": {"field": "txt"}}},
      {"data": {"name": "legendItems"}, "mark": {"type": "point", "filled": true, "opacity": 0},
       "encoding": {
         "color": {"field": "series", "type": "nominal",
           "scale": {"domain": ["G1 Layer 1| 5 wt% H2O; 790°C - 850°C", "G1 Layer 2|5 wt% H2O; 790°C - 850°C", "C3|5 wt%; 1000°C; 0.2 Ωm melt", "C3|1000°C; 0.06 Ωm melt", "C3 (100% melt) / C4 (35% melt)|0.3 Ωm melt", "C4 (35% melt)|5.3 wt%; 1030°C", "M1|1 wt% H2O; 760°C"],
                     "range": ["#c1172f", "#2e3192", "#3d8f32", "#e09a1e", "#93288e", "#a53a9f", "#5b1d1d"]},
           "legend": {"title": null, "orient": "top-right", "offset": 1, "padding": 10, "rowPadding": 14, "symbolSize": 900, "symbolStrokeWidth": 0, "symbolOpacity": 1, "labelFont": "Lato", "labelFontSize": 16, "labelColor": "#111", "labelOffset": 45, "labelLimit": 400, "labelExpr": "split(datum.label, '|')", "strokeColor": "#222", "fillColor": "white", "cornerRadius": 0}},
         "shape": {"field": "series", "type": "nominal",
           "scale": {"domain": ["G1 Layer 1| 5 wt% H2O; 790°C - 850°C", "G1 Layer 2|5 wt% H2O; 790°C - 850°C", "C3|5 wt%; 1000°C; 0.2 Ωm melt", "C3|1000°C; 0.06 Ωm melt", "C3 (100% melt) / C4 (35% melt)|0.3 Ωm melt", "C4 (35% melt)|5.3 wt%; 1030°C", "M1|1 wt% H2O; 760°C"],
                     "range": [
                       "M-0.93,-0.08H-0.27V0.08H-0.93Z M0.07,-0.08H0.73V0.08H0.07Z M1.07,-0.08H1.73V0.08H1.07Z M2.07,-0.08H2.7V0.08H2.07Z M2.7,0A0.28,0.28 0 1,0 3.26,0A0.28,0.28 0 1,0 2.7,0Z",
                       "M-0.93,-0.08H-0.27V0.08H-0.93Z M0.07,-0.08H0.73V0.08H0.07Z M1.07,-0.08H1.73V0.08H1.07Z M2.07,-0.08H2.7V0.08H2.07Z M2.7,0A0.28,0.28 0 1,0 3.26,0A0.28,0.28 0 1,0 2.7,0Z",
                       "M-0.93,-0.08H-0.27V0.08H-0.93Z M0.07,-0.08H0.73V0.08H0.07Z M1.07,-0.08H1.73V0.08H1.07Z M2.07,-0.08H2.7V0.08H2.07Z M2.7,0A0.28,0.28 0 1,0 3.26,0A0.28,0.28 0 1,0 2.7,0Z",
                       "M-0.93,-0.08H-0.27V0.08H-0.93Z M0.07,-0.08H0.73V0.08H0.07Z M1.07,-0.08H1.73V0.08H1.07Z M2.07,-0.08H2.7V0.08H2.07Z M2.7,0A0.28,0.28 0 1,0 3.26,0A0.28,0.28 0 1,0 2.7,0Z",
                       "M-0.93,-0.14H3.0V0.14H-0.93Z",
                       "M-0.93,-0.08H-0.27V0.08H-0.93Z M0.07,-0.08H0.73V0.08H0.07Z M1.07,-0.08H1.73V0.08H1.07Z M2.07,-0.08H2.7V0.08H2.07Z M2.7,0A0.28,0.28 0 1,0 3.26,0A0.28,0.28 0 1,0 2.7,0Z",
                       "M-0.93,-0.08H-0.27V0.08H-0.93Z M0.07,-0.08H0.73V0.08H0.07Z M1.07,-0.08H1.73V0.08H1.07Z M2.07,-0.08H2.7V0.08H2.07Z M2.7,0A0.28,0.28 0 1,0 3.26,0A0.28,0.28 0 1,0 2.7,0Z"
                     ]},
           "legend": {"title": null, "orient": "top-right", "offset": 1, "padding": 10, "rowPadding": 14, "symbolSize": 900, "symbolStrokeWidth": 0, "symbolOpacity": 1, "labelFont": "Lato", "labelFontSize": 16, "labelColor": "#111", "labelOffset": 45, "labelLimit": 400, "labelExpr": "split(datum.label, '|')", "strokeColor": "#222", "fillColor": "white", "cornerRadius": 0}}
       }}
    ]
  }
]
}
